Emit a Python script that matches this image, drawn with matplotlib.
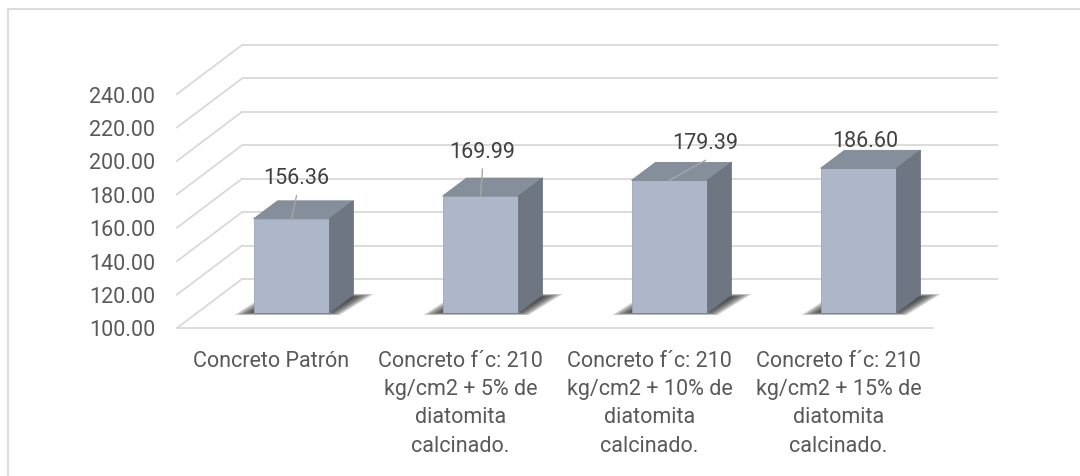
import matplotlib
matplotlib.use("Agg")
import matplotlib.pyplot as plt
from matplotlib.patches import Polygon
from matplotlib.lines import Line2D
import numpy as np

# ---- data ----
categories = [
    "Concreto Patrón",
    "Concreto f´c: 210\nkg/cm2 + 5% de\ndiatomita\ncalcinado.",
    "Concreto f´c: 210\nkg/cm2 + 10% de\ndiatomita\ncalcinado.",
    "Concreto f´c: 210\nkg/cm2 + 15% de\ndiatomita\ncalcinado.",
]
values = [156.36, 169.99, 179.39, 186.60]
y_ticks = [100, 120, 140, 160, 180, 200, 220, 240]

# ---- style ----
W, H, DPI = 1080, 477, 100
FRONT = "#ADB7C9"
TOP = "#858E9B"
SIDE = "#6E7682"
GRID = "#D9D9D9"
TEXT = "#595959"
LABEL = "#404040"
FONT = "Roboto"
FS = 15.5

# pixel offsets (x right, y up)
FLOOR_FRONT = (-20, -15)    # front edge of the floor relative to the bar plane
BACK_WALL = (45, 34)        # back wall relative to the bar plane
BAR_DEPTH = (24, 18)        # depth of each box
label_dx = [5, 2, 36, 7]
label_dy = [41, 45, 38, 28]
show_leader = [True, True, True, False]

plt.rcParams["font.family"] = [FONT, "DejaVu Sans"]

fig = plt.figure(figsize=(W / DPI, H / DPI), dpi=DPI)
ax_w_px, ax_h_px = 756, 250.7
ax = fig.add_axes([197 / W, (H - 314) / H, ax_w_px / W, ax_h_px / H])
ax.set_xlim(-0.5, 3.5)
ax.set_ylim(100, 250)
ax.axis("off")

px_x = ax_w_px / 4.0      # pixels per category unit
px_y = ax_h_px / 150.0    # pixels per value unit


def dxu(p):
    return p / px_x


def dyu(p):
    return p / px_y


x0, x1 = ax.get_xlim()
base = y_ticks[0]

# back wall gridlines and the left floor/wall diagonals
for v in y_ticks:
    ax.plot([x0 + dxu(BACK_WALL[0]), x1 + dxu(BACK_WALL[0])],
            [v + dyu(BACK_WALL[1])] * 2,
            color=GRID, lw=1.3, clip_on=False, zorder=0,
            solid_capstyle="butt")
    ax.plot([x0 + dxu(FLOOR_FRONT[0]), x0 + dxu(BACK_WALL[0])],
            [v + dyu(FLOOR_FRONT[1]), v + dyu(BACK_WALL[1])],
            color=GRID, lw=1.3, clip_on=False, zorder=0)
    ax.text(x0 + dxu(FLOOR_FRONT[0] - 22), v + dyu(FLOOR_FRONT[1] - 2),
            f"{v:.2f}", ha="right", va="center", color=TEXT, fontsize=FS)

# front edge of the floor
ax.plot([x0 + dxu(FLOOR_FRONT[0]), x1 + dxu(FLOOR_FRONT[0])],
        [base + dyu(FLOOR_FRONT[1])] * 2,
        color=GRID, lw=1.3, clip_on=False, zorder=0)

xs = np.arange(len(values))
bw = dxu(76)
ddx, ddy = dxu(BAR_DEPTH[0]), dyu(BAR_DEPTH[1])

# soft floor shadows
for x in xs:
    fl = np.array([x - bw / 2 + dxu(-19), base + dyu(-2)])
    fr = np.array([x + bw / 2 + dxu(10), base + dyu(-2)])
    br = np.array([x + bw / 2 + ddx + dxu(20), base + ddy + dyu(1)])
    bl = np.array([x - bw / 2 + ddx + dxu(-10), base + ddy + dyu(1)])
    pts = np.array([fl, fr, br, bl])
    c = pts.mean(axis=0)
    for t in np.linspace(1.0, 0.6, 9):
        ax.add_patch(Polygon(c + (pts - c) * t, closed=True,
                             facecolor="#1e1e1e", edgecolor="none",
                             alpha=0.21, zorder=1, clip_on=False))

# boxes: front face, top and side
ax.bar(xs, np.array(values) - base, bottom=base, width=bw, color=FRONT,
       edgecolor="#9CA6B7", linewidth=0.6, zorder=3)
for x, v in zip(xs, values):
    top = [(x - bw / 2, v), (x + bw / 2, v),
           (x + bw / 2 + ddx, v + ddy), (x - bw / 2 + ddx, v + ddy)]
    side = [(x + bw / 2, base), (x + bw / 2 + ddx, base + ddy),
            (x + bw / 2 + ddx, v + ddy), (x + bw / 2, v)]
    ax.add_patch(Polygon(top, closed=True, facecolor=TOP,
                         edgecolor="#7A838F", lw=0.5, zorder=3, clip_on=False))
    ax.add_patch(Polygon(side, closed=True, facecolor=SIDE,
                         edgecolor="#666E7A", lw=0.5, zorder=3, clip_on=False))

# value labels with leader lines
for x, v, ldx, ldy, lead in zip(xs, values, label_dx, label_dy, show_leader):
    lx, ly = x + dxu(ldx), v + dyu(ldy)
    if lead:
        ax.plot([lx, x], [ly - dyu(18), v], color="#A6A6A6", lw=1.0,
                zorder=4, clip_on=False)
    ax.text(lx, ly, f"{v:.2f}", ha="center", va="center", color=LABEL,
            fontsize=FS, zorder=5, clip_on=False)

# category labels along the front edge
for x, cat in zip(xs, categories):
    ax.text(x + dxu(FLOOR_FRONT[0]), base + dyu(FLOOR_FRONT[1] - 22), cat,
            ha="center", va="top", color=TEXT, fontsize=FS,
            linespacing=1.45, clip_on=False)

# chart frame
fig.add_artist(Line2D([8 / W, 1.0], [(H - 10) / H] * 2,
                      transform=fig.transFigure, color=GRID, lw=1.3))
fig.add_artist(Line2D([8 / W] * 2, [0, (H - 10) / H],
                      transform=fig.transFigure, color=GRID, lw=1.3))

fig.savefig("out.png", dpi=DPI, facecolor="white")
